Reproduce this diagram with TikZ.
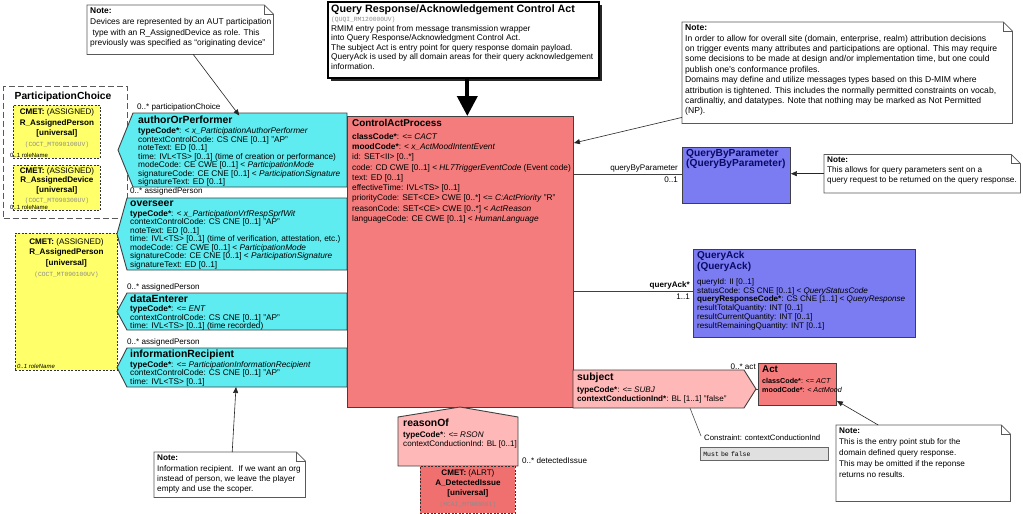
\documentclass[tikz,border=0pt]{standalone}
\usepackage{fontspec}
\setmainfont{Liberation Sans}
\setmonofont{Liberation Mono}
\usetikzlibrary{arrows.meta,positioning,shadows}

\definecolor{actred}{RGB}{245,124,124}
\definecolor{partcyan}{RGB}{94,236,240}
\definecolor{cmetyellow}{RGB}{255,255,105}
\definecolor{qblue}{RGB}{123,123,242}
\definecolor{relpink}{RGB}{255,184,184}
\definecolor{alertred}{RGB}{240,112,112}
\definecolor{titlenavy}{RGB}{10,10,100}
\definecolor{cmetgray}{RGB}{140,140,140}

\tikzset{
  titlebox/.style={draw=black, line width=1.6pt, fill=white, anchor=north west, inner sep=0pt,
    drop shadow={shadow xshift=3pt, shadow yshift=-3pt, fill=black!85, opacity=1}},
  clsbox/.style={draw=black!75, line width=0.9pt, anchor=north west, inner sep=0pt},
  attrtext/.style={anchor=north west, align=left, inner sep=0pt},
  clsname/.style={anchor=north west, align=left, inner sep=0pt, text=titlenavy,
    font=\fontsize{10.2}{10.4}\selectfont\bfseries},
  partshape/.style={draw=black!75, line width=0.9pt, fill=partcyan},
  relshape/.style={draw=black!75, line width=0.9pt, fill=relpink},
  partattr/.style={anchor=north west, align=left, inner sep=0pt, font=\fontsize{8.3}{8.5}\selectfont},
  choicebox/.style={draw=black!65, dash pattern=on 6pt off 3pt, line width=1.3pt, anchor=north west, inner sep=0pt},
  cmetbox/.style={draw=black!80, dash pattern=on 2pt off 1.5pt, line width=0.9pt, fill=cmetyellow,
    anchor=north west, inner sep=0pt},
  cmettext/.style={anchor=north, align=center, inner sep=0pt, font=\fontsize{8.1}{10.5}\selectfont},
  rolename/.style={anchor=south west, inner sep=0pt, font=\fontsize{6}{7}\selectfont},
  assoclabel/.style={inner sep=0pt, font=\fontsize{8.1}{8.2}\selectfont},
  assocline/.style={draw=black!75, line width=0.9pt},
  notebox/.style={anchor=north west, inner sep=0pt},
  notepath/.style={draw=black!65, line width=0.7pt, fill=white},
  notetext/.style={anchor=north west, align=left, inner sep=0pt, font=\fontsize{8.3}{10.5}\selectfont},
  notearrow/.style={draw=black!85, line width=0.6pt, -{Triangle[length=6pt,width=5pt]}},
  bigarrow/.style={draw=black, line width=4pt, -{Triangle[length=20pt,width=20pt]}}
}

\newcommand{\cmetid}[1]{{\ttfamily\fontsize{6.3}{7}\selectfont\color{cmetgray}#1}}
\newcommand{\parttitle}[1]{{\fontsize{10.4}{11}\selectfont\bfseries #1}}
\newcommand{\notefold}[1]{%
  \filldraw[notepath] (#1.north west) -- ([xshift=-9pt]#1.north east)
    -- ([yshift=-9pt]#1.north east) -- (#1.south east) -- (#1.south west) -- cycle;
  \draw[notepath, fill=none] ([xshift=-9pt]#1.north east) |- ([yshift=-9pt]#1.north east);}

\begin{document}
\begin{tikzpicture}[x=1pt,y=-1pt]
  \fill[white] (0,0) rectangle (1023,514);
  \useasboundingbox (0,0) rectangle (1023,514);

  % Title of the model
  \node[titlebox, minimum width=271pt, minimum height=76pt] (title) at (327,1) {};
  \node[attrtext, font=\fontsize{8.3}{9.5}\selectfont] (titleText) at (331,4.5)
    {{\fontsize{10.7}{11}\selectfont\bfseries Query Response/Acknowledgement Control Act}\\
     \cmetid{(QUQI\_RM120000UV)}\\
     RMIM entry point from message transmission wrapper\\
     into Query Response/Acknowledgment Control Act.\\
     The subject Act is entry point for query response domain payload.\\
     QueryAck is used by all domain areas for their query acknowledgement\\
     information.};

  % Participation choice
  \node[choicebox, minimum width=124pt, minimum height=132pt] (choice) at (3,86) {};
  \node[inner sep=0pt, anchor=north, font=\fontsize{10.3}{11}\selectfont\bfseries] (choiceTitle) at (63,91.5) {ParticipationChoice};
  \node[cmetbox, minimum width=87pt, minimum height=53pt] (cmetPerson) at (13,105) {};
  \node[cmettext] (cmetPersonText) at ([yshift=-3.5pt]cmetPerson.north)
    {\textbf{CMET:} (ASSIGNED)\\\textbf{R\_AssignedPerson}\\\textbf{[universal]}\\\cmetid{(COCT\_MT090100UV)}};
  \node[rolename] (cmetPersonRole) at ([xshift=-3pt,yshift=1.5pt]cmetPerson.south west) {0..1 roleName};
  \node[cmetbox, minimum width=87pt, minimum height=45pt] (cmetDevice) at (13,165) {};
  \node[cmettext, font=\fontsize{8.1}{9.7}\selectfont] (cmetDeviceText) at ([yshift=-2pt]cmetDevice.north)
    {\textbf{CMET:} (ASSIGNED)\\\textbf{R\_AssignedDevice}\\\textbf{[universal]}\\\cmetid{(COCT\_MT090300UV)}};
  \node[rolename] (cmetDeviceRole) at ([xshift=-3pt,yshift=1.5pt]cmetDevice.south west) {0..1 roleName};

  % Assigned person for the other participations
  \node[cmetbox, minimum width=102pt, minimum height=137pt] (cmetAssigned) at (15,233) {};
  \node[cmettext, font=\fontsize{8.1}{10.8}\selectfont] (cmetAssignedText) at ([yshift=-5pt]cmetAssigned.north)
    {\textbf{CMET:} (ASSIGNED)\\\textbf{R\_AssignedPerson}\\\textbf{[universal]}\\\cmetid{(COCT\_MT090100UV)}};
  \node[rolename, font=\fontsize{6}{7}\selectfont\itshape] (cmetAssignedRole) at ([xshift=2pt,yshift=2pt]cmetAssigned.south west) {0..1 roleName};

  % Participations
  \filldraw[partshape] (133,113) -- (347,113) -- (347,187) -- (133,187) -- (118,150) -- cycle;
  \node[partattr] (aop) at (138,115.5)
    {\parttitle{authorOrPerformer}\\[2pt]
     \textbf{typeCode*}: \textit{< x\_ParticipationAuthorPerformer}\\
     contextControlCode: CS CNE [0..1] "AP"\\
     noteText: ED [0..1]\\
     time: IVL<TS> [0..1] (time of creation or performance)\\
     modeCode: CE CWE [0..1] < \textit{ParticipationMode}\\
     signatureCode: CE CNE [0..1] < \textit{ParticipationSignature}\\
     signatureText: ED [0..1]};
  \node[assoclabel, anchor=south west] (aopRole) at (137,111.5) {0..* participationChoice};

  \filldraw[partshape] (127,198) -- (347,198) -- (347,270) -- (127,270) -- (117,234) -- cycle;
  \node[partattr] (overseer) at (130,200.5)
    {\parttitle{overseer}\\[1.5pt]
     \textbf{typeCode*}: \textit{< x\_ParticipationVrfRespSprfWit}\\
     contextControlCode: CS CNE [0..1] "AP"\\
     noteText: ED [0..1]\\
     time: IVL<TS> [0..1] (time of verification, attestation, etc.)\\
     modeCode: CE CWE [0..1] < \textit{ParticipationMode}\\
     signatureCode: CE CNE [0..1] < \textit{ParticipationSignature}\\
     signatureText: ED [0..1]};
  \node[assoclabel, anchor=west] (overseerRole) at (130,191.5) {0..* assignedPerson};

  \filldraw[partshape] (127,293) -- (347,293) -- (347,330) -- (127,330) -- (117,311.5) -- cycle;
  \node[partattr] (enterer) at (130,294.5)
    {\parttitle{dataEnterer}\\[1pt]
     \textbf{typeCode*}: \textit{<= ENT}\\
     contextControlCode: CS CNE [0..1] "AP"\\
     time: IVL<TS> [0..1] (time recorded)};
  \node[assoclabel, anchor=west] (entererRole) at (127,287) {0..* assignedPerson};

  \filldraw[partshape] (127,348) -- (347,348) -- (347,387) -- (127,387) -- (117,367.5) -- cycle;
  \coordinate (irBottom) at (236,387);
  \node[partattr] (recipient) at (130,349.5)
    {\parttitle{informationRecipient}\\[1.5pt]
     \textbf{typeCode*}: \textit{<= ParticipationInformationRecipient}\\
     contextControlCode: CS CNE [0..1] "AP"\\
     time: IVL<TS> [0..1]};
  \node[assoclabel, anchor=west] (recipientRole) at (127,342) {0..* assignedPerson};

  % Control act
  \node[clsbox, fill=actred, minimum width=226pt, minimum height=291pt] (cap) at (347,116) {};
  \node[attrtext, font=\fontsize{8.3}{10.3}\selectfont] (capText) at (352,119.5)
    {{\fontsize{9.9}{11}\selectfont\bfseries ControlActProcess}\\[2pt]
     \textbf{classCode*}: \textit{<= CACT}\\
     \textbf{moodCode*}: \textit{< x\_ActMoodIntentEvent}\\
     id: SET<II> [0..*]\\
     code: CD CWE [0..1] < \textit{HL7TriggerEventCode} (Event code)\\
     text: ED [0..1]\\
     effectiveTime: IVL<TS> [0..1]\\
     priorityCode: SET<CE> CWE [0..*] <= \textit{C:ActPriority} "R"\\
     reasonCode: SET<CE> CWE [0..*] < \textit{ActReason}\\
     languageCode: CE CWE [0..1] < \textit{HumanLanguage}};
  \draw[bigarrow] ([xshift=4pt]title.south) -- ([xshift=4pt]title.south |- cap.north);

  % Query by parameter
  \node[clsbox, fill=qblue, minimum width=108pt, minimum height=56pt] (qbp) at (682,147) {};
  \node[clsname] (qbpTitle) at (686,149) {QueryByParameter\\(QueryByParameter)};
  \coordinate (capQbp) at (573,174);
  \draw[assocline] (capQbp) -- (capQbp -| qbp.west);
  \node[assoclabel, anchor=south east] (qbpRole) at ([xshift=-4pt,yshift=1.5pt]capQbp -| qbp.west) {queryByParameter};
  \node[assoclabel, anchor=north east] (qbpCard) at ([xshift=-4pt,yshift=-2.5pt]capQbp -| qbp.west) {0..1};

  % Query acknowledgement
  \node[clsbox, fill=qblue, minimum width=222pt, minimum height=88pt] (qack) at (693,249) {};
  \node[clsname, font=\fontsize{10}{10.6}\selectfont\bfseries] (qackTitle) at (697,251) {QueryAck\\(QueryAck)};
  \node[attrtext, font=\fontsize{8.1}{8.7}\selectfont] (qackText) at (697,278.5)
    {queryId: II [0..1]\\
     statusCode: CS CNE [0..1] < \textit{QueryStatusCode}\\
     \textbf{queryResponseCode*}: CS CNE [1..1] < \textit{QueryResponse}\\
     resultTotalQuantity: INT [0..1]\\
     resultCurrentQuantity: INT [0..1]\\
     resultRemainingQuantity: INT [0..1]};
  \coordinate (capAck) at (573,291);
  \draw[assocline] (capAck) -- (capAck -| qack.west);
  \node[assoclabel, anchor=south east, font=\fontsize{8.1}{8.2}\selectfont\bfseries] (qackRole) at ([xshift=-3pt,yshift=1.5pt]capAck -| qack.west) {queryAck*};
  \node[assoclabel, anchor=north east] (qackCard) at ([xshift=-3pt,yshift=-2.5pt]capAck -| qack.west) {1..1};

  % Subject and Act
  \filldraw[relshape] (573,370) -- (744,370) -- (756,389) -- (744,408) -- (573,408) -- cycle;
  \coordinate (subjTip) at (756,389);
  \coordinate (subjBottom) at (690,408);
  \node[partattr, font=\fontsize{8.1}{9}\selectfont] (subject) at (577,373)
    {\parttitle{subject}\\[2.5pt]
     \textbf{typeCode*}: \textit{<= SUBJ}\\
     \textbf{contextConductionInd*}: BL [1..1] "false"};
  \node[clsbox, fill=actred, minimum width=78pt, minimum height=42pt] (act) at (758,363) {};
  \node[attrtext, font=\fontsize{7.2}{9}\selectfont] (actText) at (762,366)
    {{\fontsize{9.8}{10}\selectfont\bfseries Act}\\[1.5pt]
     \textbf{classCode*}: \textit{<= ACT}\\
     \textbf{moodCode*}: \textit{< ActMood}};
  \draw[assocline] (subjTip) -- (subjTip -| act.west);
  \node[assoclabel, anchor=south east] (actRole) at (756,370) {0..* act};

  % Constraint on the subject
  \node[attrtext, font=\fontsize{7.8}{8}\selectfont] (constraint) at (704,435) {Constraint: contextConductionInd};
  \node[draw=black!60, fill=black!12, line width=0.6pt, anchor=north west, minimum width=128pt, minimum height=13pt,
    inner sep=3pt, text width=122pt, font=\ttfamily\fontsize{6.5}{7}\selectfont] (mustFalse) at (700,447) {Must be false};
  \draw[draw=black!70, line width=0.6pt] ([xshift=-3pt,yshift=-1pt]constraint.north west) -- (subjBottom);

  % Reason and detected issue
  \filldraw[relshape] (398,417) -- (460,407) -- (518,417) -- (518,466) -- (398,466) -- cycle;
  \node[partattr, font=\fontsize{8.1}{8.8}\selectfont] (reasonOf) at (403,418.5)
    {\parttitle{reasonOf}\\[2.5pt]
     \textbf{typeCode*}: \textit{<= RSON}\\
     contextConductionInd: BL [0..1]};
  \node[cmetbox, fill=alertred, minimum width=95pt, minimum height=47pt] (cmetIssue) at (420,466) {};
  \node[cmettext, font=\fontsize{8.1}{10.2}\selectfont] (cmetIssueText) at ([yshift=-3.5pt]cmetIssue.north)
    {\textbf{CMET:} (ALRT)\\\textbf{A\_DetectedIssue}\\\textbf{[universal]}\\\cmetid{(MCAI\_MT900001)}};
  \node[assoclabel, anchor=west] (issueRole) at (522,461) {0..* detectedIssue};

  % Notes
  \node[notebox, minimum width=186pt, minimum height=49pt] (noteAuthor) at (87,5) {};
  \notefold{noteAuthor}
  \node[notetext, font=\fontsize{8.4}{10.8}\selectfont] (noteAuthorText) at (90,7.5)
    {\textbf{Note:}\\
     Devices are represented by an AUT participation\\
     \ type with an R\_AssignedDevice as role. This\\
     previously was specified as “originating device”};
  \draw[notearrow] ([xshift=13pt]noteAuthor.south) -- (aop.north);

  \node[notebox, minimum width=330pt, minimum height=101pt] (noteDomain) at (682,22) {};
  \notefold{noteDomain}
  \node[notetext, font=\fontsize{8.6}{10.4}\selectfont] (noteDomainText) at (685,24.5)
    {\textbf{Note:}\\
     In order to allow for overall site (domain, enterprise, realm) attribution decisions\\
     on trigger events many attributes and participations are optional. This may require\\
     some decisions to be made at design and/or implementation time, but one could\\
     publish one's conformance profiles.\\
     Domains may define and utilize messages types based on this D-MIM where\\
     attribution is tightened. This includes the normally permitted constraints on vocab,\\
     cardinaltiy, and datatypes. Note that nothing may be marked as Not Permitted\\
     (NP).};
  \draw[notearrow] ([yshift=6pt]noteDomain.south west) -- ([yshift=-27pt]cap.north east);

  \node[notebox, minimum width=196pt, minimum height=38pt] (noteQbp) at (824,154.5) {};
  \notefold{noteQbp}
  \node[notetext, font=\fontsize{8.2}{10.3}\selectfont] (noteQbpText) at (827,156.5)
    {\textbf{Note:}\\
     This allows for query parameters sent on a\\
     query request to be returned on the query response.};
  \draw[notearrow] (noteQbp.west) -- (noteQbp.west -| qbp.east);

  \node[notebox, minimum width=174pt, minimum height=76pt] (noteAct) at (836,425) {};
  \notefold{noteAct}
  \node[notetext, font=\fontsize{8.2}{11}\selectfont] (noteActText) at (839,427.5)
    {\textbf{Note:}\\
     This is the entry point stub for the\\
     domain defined query response.\\
     This may be omitted if the reponse\\
     returns no results.};
  \draw[notearrow] ([xshift=-45pt]noteAct.north) -- ([yshift=5pt]act.south east);

  \node[notebox, minimum width=151pt, minimum height=45pt] (noteRecipient) at (154,452) {};
  \notefold{noteRecipient}
  \node[notetext, font=\fontsize{8.2}{10.2}\selectfont] (noteRecipientText) at (157,455)
    {\textbf{Note:}\\
     Information recipient.\ \ If we want an org\\
     instead of person, we leave the player\\
     empty and use the scoper.};
  \draw[notearrow] ([xshift=2.5pt]noteRecipient.north) -- (irBottom);
\end{tikzpicture}
\end{document}
